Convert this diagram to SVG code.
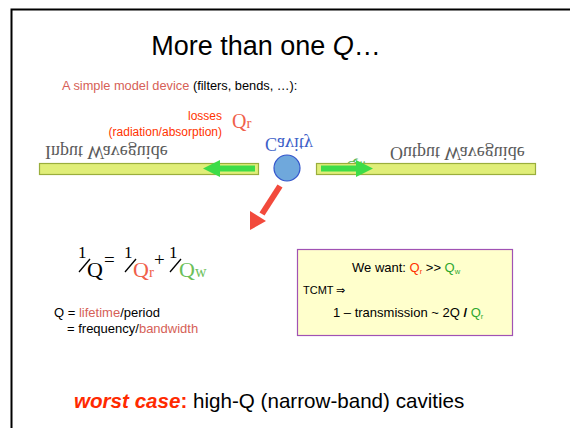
<svg xmlns="http://www.w3.org/2000/svg" width="570" height="428" viewBox="0 0 570 428">
<style>
.sans{font-family:"Liberation Sans",Arial,sans-serif}
.serif{font-family:"Liberation Serif","Times New Roman",serif}
.salmon{fill:#d65f57}
.wg{fill:#e0ee78;stroke:#9aae3c;stroke-width:1.2}
.flip{font-family:"Liberation Serif","Times New Roman",serif;font-size:18px;fill:#5a5a5a}
</style>
<rect x="0" y="0" width="570" height="428" fill="#ffffff"/>
<path d="M11.5,428 V9.5 H570" fill="none" stroke="#000" stroke-width="2"/>

<g id="title">
<text class="sans" x="266" y="55" font-size="27" text-anchor="middle" fill="#000">More than one <tspan font-style="italic">Q</tspan>…</text>
</g>
<g id="subtitle">
<text class="sans" x="62" y="90" font-size="12.8" fill="#000"><tspan class="salmon">A simple model device</tspan> (filters, bends, …):</text>
</g>
<g id="losses">
<text class="sans" x="222" y="120" font-size="12" text-anchor="end" fill="#ff3300">losses</text>
<text class="sans" x="222" y="136" font-size="12" text-anchor="end" fill="#ff3300">(radiation/absorption)</text>
<text class="serif" x="232" y="128" font-size="20" fill="#f0604a">Q<tspan font-size="15">r</tspan></text>
</g>

<g id="input-waveguide">
<rect class="wg" x="39.5" y="163.5" width="219" height="11"/>
<text class="flip" transform="scale(1,-1)" x="45" y="-146">Input Waveguide</text>
</g>
<g id="output-waveguide">
<text class="serif" transform="scale(1,-1)" x="346" y="-161" font-size="17" fill="#5cb85c">Q<tspan font-size="12">w</tspan></text>
<rect class="wg" x="316.5" y="163.5" width="219" height="11"/>
<text class="flip" transform="scale(1,-1)" x="390" y="-147">Output Waveguide</text>
</g>
<g id="cavity">
<circle cx="287" cy="168" r="13" fill="#6fa8dc" stroke="#3355cc" stroke-width="1.2"/>
<text class="serif" transform="scale(1,-1)" x="265" y="-138" font-size="18" fill="#3d5fc8">Cavity</text>
</g>

<g id="connectors">
<path d="M255,168.5 H220" stroke="#3ddc48" stroke-width="6" fill="none"/>
<path d="M203,168.5 L220,160 L220,177 z" fill="#3ddc48"/>
<path d="M321,168.5 H358" stroke="#3ddc48" stroke-width="6" fill="none"/>
<path d="M373,168.5 L356,160 L356,177 z" fill="#3ddc48"/>
<path d="M280,186 L262,214" stroke="#f24a3c" stroke-width="6" fill="none"/>
<path d="M250,230 L250,211 L266,221 z" fill="#f24a3c"/>
</g>

<g id="equation">
<text class="serif" x="78" y="258" font-size="17" fill="#000">1</text>
<line x1="79" y1="272" x2="90" y2="259" stroke="#000" stroke-width="1.3"/>
<text class="serif" x="87" y="277" font-size="22" fill="#000">Q</text>
<text class="serif" x="104" y="266" font-size="19" fill="#000">=</text>
<text class="serif" x="124" y="258" font-size="17" fill="#000">1</text>
<line x1="125" y1="272" x2="136" y2="259" stroke="#000" stroke-width="1.3"/>
<text class="serif" x="133" y="277" font-size="22" fill="#f0604a">Q<tspan font-size="15">r</tspan></text>
<text class="serif" x="154" y="266" font-size="19" fill="#000">+</text>
<text class="serif" x="169" y="258" font-size="17" fill="#000">1</text>
<line x1="170" y1="272" x2="181" y2="259" stroke="#000" stroke-width="1.3"/>
<text class="serif" x="179" y="277" font-size="22" fill="#6cbf5a">Q<tspan font-size="16">w</tspan></text>
</g>

<g id="definition">
<text class="sans" x="54" y="317" font-size="13" fill="#000">Q = <tspan class="salmon">lifetime</tspan>/period</text>
<text class="sans" x="67" y="333" font-size="13" fill="#000">= frequency/<tspan class="salmon">bandwidth</tspan></text>
</g>

<g id="tcmt-box">
<rect x="297.5" y="249.5" width="215" height="86" fill="#ffffcc" stroke="#a052b4" stroke-width="1.2"/>
<text class="sans" x="352" y="272" font-size="13" fill="#000">We want: <tspan fill="#ff3300">Q<tspan font-size="7.5" dy="2">r</tspan></tspan><tspan dy="-2"> &gt;&gt; </tspan><tspan fill="#2ea82e">Q<tspan font-size="7.5" dy="2">w</tspan></tspan></text>
<text class="sans" x="303" y="294" font-size="11" fill="#000">TCMT ⇒</text>
<text class="sans" x="333" y="317" font-size="13" fill="#000">1 – transmission ~ 2Q <tspan font-weight="bold">/</tspan> <tspan fill="#2ea82e">Q<tspan font-size="7.5" dy="2">r</tspan></tspan></text>
</g>

<g id="conclusion">
<text class="sans" x="74" y="408" font-size="20.6" fill="#000"><tspan font-weight="bold" font-style="italic" fill="#ff2a00">worst case</tspan><tspan fill="#ff2a00" font-weight="bold">:</tspan> high-Q (narrow-band) cavities</text>
</g>
</svg>
